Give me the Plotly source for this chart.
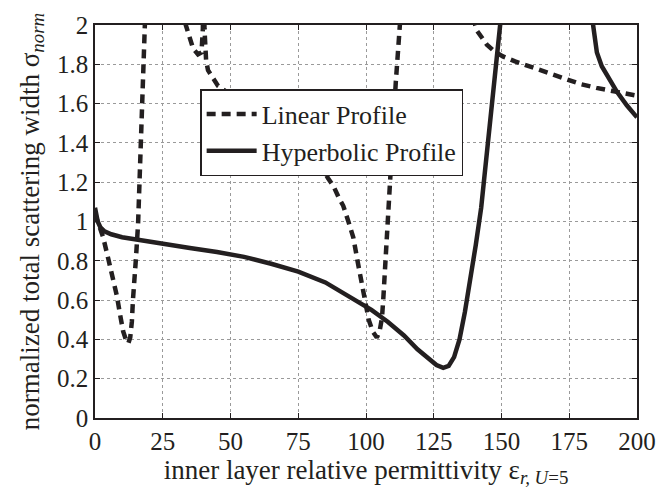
import plotly.graph_objects as go

# ---- data ----
lin_x = [0, 1, 2, 3, 4.9, 6.8, 8.1, 9.2, 10.4, 11.5, 12.3, 13.0, 13.6, 14.0, 14.8, 15.1, 15.9,
         16.6, 17.3, 17.8, 18.4, 19.0,
         32.5, 33.5, 34.5, 36.2, 38.0, 39.3, 39.8, 40.1, 40.4, 41.0, 41.7, 43.5, 45.4,
         50, 55, 60, 65, 70, 75, 80, 83.8, 86, 88, 90, 91.6, 93.5, 95.3, 97, 98.5, 99.6,
         101, 102.5, 104, 105, 105.9, 106.4, 106.8, 107.4, 108, 109, 110, 111, 112.5, 113.2,
         139.5, 140.3, 141, 142.5, 144.6, 147, 150.5, 155, 160.5, 166, 172.7, 179, 185, 192, 200]
lin_y = [1.04, 1.0, 0.96, 0.92, 0.81, 0.71, 0.62, 0.53, 0.44, 0.395, 0.38, 0.41, 0.49, 0.60, 0.72, 0.81, 0.99,
         1.27, 1.56, 1.77, 2.0, 2.4,
         2.3, 2.0, 1.96, 1.88, 1.85, 1.86, 1.98, 2.3, 1.98, 1.82, 1.77, 1.73, 1.69,
         1.645, 1.60, 1.55, 1.50, 1.44, 1.38, 1.32, 1.27, 1.22, 1.18, 1.12, 1.08, 1.00, 0.92, 0.79, 0.69, 0.61,
         0.50, 0.44, 0.41, 0.44, 0.51, 0.61, 0.71, 0.81, 0.91, 1.21, 1.45, 1.71, 2.0, 2.4,
         2.4, 2.0, 1.97, 1.94, 1.90, 1.87, 1.84, 1.815, 1.79, 1.76, 1.73, 1.70, 1.68, 1.66, 1.64]

hyp_x = [0, 0.5, 1, 2, 3.5, 6, 10, 17, 25, 35, 45, 55, 65, 75, 85, 95, 102, 108, 114, 119, 123, 126,
         128.5, 130.5, 132.5, 134.5, 136.5, 138.5, 140.5, 142.5, 144.5, 146.5, 148.5, 149.5, 151,
         182.5, 183.8, 185.2, 187, 189, 192.6, 196.3, 200]
hyp_y = [1.07, 1.04, 1.00, 0.97, 0.95, 0.935, 0.92, 0.905, 0.885, 0.865, 0.845, 0.82, 0.785, 0.745, 0.69,
         0.61, 0.55, 0.49, 0.42, 0.35, 0.30, 0.27,
         0.255, 0.265, 0.31, 0.40, 0.54, 0.70, 0.88, 1.07, 1.34, 1.62, 1.89, 2.0, 2.4,
         2.4, 2.0, 1.86, 1.79, 1.74, 1.66, 1.59, 1.53]

x_ticks = [0, 25, 50, 75, 100, 125, 150, 175, 200]
y_ticks = [0, 0.2, 0.4, 0.6, 0.8, 1.0, 1.2, 1.4, 1.6, 1.8, 2.0]
y_tick_labels = ["0", "0.2", "0.4", "0.6", "0.8", "1", "1.2", "1.4", "1.6", "1.8", "2"]

INK = "#231f20"
FONT = "Liberation Serif, Times New Roman, serif"

fig = go.Figure()
fig.add_trace(go.Scatter(x=lin_x, y=lin_y, mode="lines", name="Linear Profile",
                         line=dict(color=INK, width=4.5, dash="9px,6px")))
fig.add_trace(go.Scatter(x=hyp_x, y=hyp_y, mode="lines", name="Hyperbolic Profile",
                         line=dict(color=INK, width=4.5)))

axis_common = dict(
    showline=True, linecolor=INK, linewidth=1.5, mirror="ticks",
    ticks="inside", ticklen=5, tickwidth=1, tickcolor=INK,
    showgrid=True, gridcolor="#9a9a9a", gridwidth=1, griddash="dot",
    zeroline=False, tickfont=dict(family=FONT, size=25, color=INK),
)

fig.update_layout(
    width=672, height=489,
    margin=dict(l=95, r=35, t=22, b=68),
    paper_bgcolor="white", plot_bgcolor="white",
    font=dict(family=FONT, color=INK),
    xaxis=dict(range=[0, 200], tickvals=x_ticks, **axis_common,
               title=dict(text="inner layer relative permittivity ε<sub><i>r, U</i>=5</sub>",
                          font=dict(family=FONT, size=27, color=INK), standoff=3)),
    yaxis=dict(range=[0, 2], tickvals=y_ticks, ticktext=y_tick_labels, **axis_common,
               title=dict(text="normalized total scattering width σ<sub><i>norm</i></sub>",
                          font=dict(family=FONT, size=27, color=INK), standoff=10)),
    legend=dict(x=0.194, y=0.837, xanchor="left", yanchor="top",
                bgcolor="white", bordercolor=INK, borderwidth=1.5,
                font=dict(family=FONT, size=26, color=INK), itemwidth=50,
                tracegroupgap=0),
    showlegend=True,
)

fig.write_html("out.html")
